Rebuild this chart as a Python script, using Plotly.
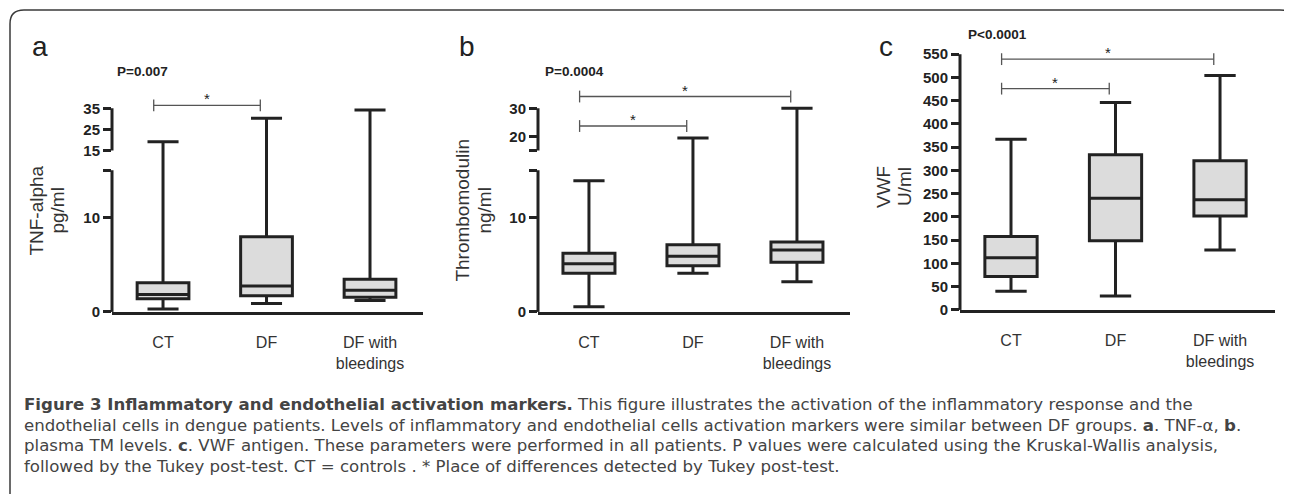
import plotly.graph_objects as go

# the page body keeps its default 8px margin; size the figure so that the page
# fits the 1292x502 window exactly (no scroll, no rescaling)
OFF = 8
W, H = 1292 - 2 * OFF, 502 - 2 * OFF

# ---------------- data ----------------
categories = ["CT", "DF", "DF with<br>bleedings"]

tnf_min = [0.3, 0.9, 1.2]
tnf_q1 = [1.4, 1.7, 1.55]
tnf_median = [1.85, 2.75, 2.3]
tnf_q3 = [3.1, 7.95, 3.45]
tnf_max = [19.2, 30.3, 34.2]

tm_min = [0.55, 4.1, 3.2]
tm_q1 = [4.1, 4.9, 5.25]
tm_median = [5.1, 5.9, 6.55]
tm_q3 = [6.2, 7.1, 7.4]
tm_max = [13.9, 19.5, 30.0]

vwf_min = [40, 30, 129]
vwf_q1 = [72, 149, 202]
vwf_median = [112, 240, 237]
vwf_q3 = [158, 334, 321]
vwf_max = [367, 446, 504]

tnf_ticks_low = [0, 10]
tnf_ticks_high = [15, 25, 35]
tm_ticks_low = [0, 10]
tm_ticks_high = [20, 30]
vwf_ticks = [0, 50, 100, 150, 200, 250, 300, 350, 400, 450, 500, 550]

panel_letters = ["a", "b", "c"]
p_texts = ["P=0.007", "P=0.0004", "P<0.0001"]
y_titles = [("TNF-alpha", "pg/ml"), ("Thrombomodulin", "ng/ml"), ("VWF", "U/ml")]
sig_tnf = [(0, 1)]
sig_tm = [(0, 2), (0, 1)]
sig_vwf = [(0, 2), (0, 1)]

caption_lines = [
    "<b>Figure 3 Inflammatory and endothelial activation markers.</b> This figure illustrates the activation of the inflammatory response and the",
    "endothelial cells in dengue patients. Levels of inflammatory and endothelial cells activation markers were similar between DF groups. <b>a</b>. TNF-α, <b>b</b>.",
    "plasma TM levels. <b>c</b>. VWF antigen. These parameters were performed in all patients. P values were calculated using the Kruskal-Wallis analysis,",
    "followed by the Tukey post-test. CT = controls . * Place of differences detected by Tukey post-test.",
]

# ---------------- styling / layout helpers ----------------
FONT = "Liberation Sans, Arial, Helvetica, sans-serif"
INK = "#222222"
BOXFILL = "#dcdcdc"


def px(x):
    return (x - OFF) / W


def py(y):
    return 1 - (y - OFF) / H


def make_break(low_top, gap_px, low_ppu, high_lo, high_ppu):
    def f(v):
        if v <= low_top:
            return v
        return low_top + gap_px / low_ppu + (v - high_lo) * high_ppu / low_ppu
    return f


brk_a = make_break(15, 20, 9.6, 15, 2.15)
brk_b = make_break(15, 20, 9.6, 15, 2.87)
ident = lambda v: v

panels = [
    dict(stats=(tnf_min, tnf_q1, tnf_median, tnf_q3, tnf_max), f=brk_a,
         xdom=(112, 423), ybot=317, ytop=40, ppu=9.6, xr=(-0.493, 2.512),
         segs=[(0, 15), (15.0001, 35)],
         tickv=[0, 10, 15] + [brk_a(t + 1e-6) for t in tnf_ticks_high],
         tickt=[str(t) for t in tnf_ticks_low] + [""] + [str(t) for t in tnf_ticks_high],
         sig=sig_tnf, sigy=[107], letter=(40, 47), ptxt=(115, 73), ytitle=((37, 58), 214)),
    dict(stats=(tm_min, tm_q1, tm_median, tm_q3, tm_max), f=brk_b,
         xdom=(538, 850), ybot=317, ytop=40, ppu=9.6, xr=(-0.49, 2.51),
         segs=[(0, 15), (15.0001, 30)],
         tickv=[0, 10, 15, brk_b(15.0001)] + [brk_b(t) for t in tm_ticks_high],
         tickt=[str(t) for t in tm_ticks_low] + ["", ""] + [str(t) for t in tm_ticks_high],
         sig=sig_tm, sigy=[98, 128], letter=(467, 47), ptxt=(543, 73), ytitle=((463, 485), 214)),
    dict(stats=(vwf_min, vwf_q1, vwf_median, vwf_q3, vwf_max), f=ident,
         xdom=(960, 1275), ybot=315, ytop=40, ppu=260 / 550, xr=(-0.488, 2.526),
         segs=[(0, 550)],
         tickv=vwf_ticks, tickt=[str(t) for t in vwf_ticks],
         sig=sig_vwf, sigy=[60, 90], letter=(886, 47), ptxt=(966, 35), ytitle=((883, 904), 190)),
]

fig = go.Figure()
layout = dict(
    width=W, height=H, margin=dict(l=0, r=0, t=0, b=0),
    paper_bgcolor="white", plot_bgcolor="white", showlegend=False,
    font=dict(family=FONT, color=INK),
)
shapes = []
annotations = []

for i, p in enumerate(panels):
    n = "" if i == 0 else str(i + 1)
    xa, ya = "x" + n, "y" + n
    f = p["f"]
    mn, q1, md, q3, mx = p["stats"]
    fig.add_trace(go.Box(
        x=[0, 1, 2],
        q1=[f(v) for v in q1], median=[f(v) for v in md], q3=[f(v) for v in q3],
        lowerfence=[f(v) for v in mn], upperfence=[f(v) for v in mx],
        width=0.5, whiskerwidth=0.6, boxpoints=False,
        fillcolor=BOXFILL, line=dict(color=INK, width=3),
        xaxis=xa, yaxis=ya, hoverinfo="skip",
    ))
    height_px = p["ybot"] - p["ytop"]
    yrange = [0, height_px / p["ppu"]]
    layout["xaxis" + n] = dict(
        domain=[px(p["xdom"][0]), px(p["xdom"][1])], anchor=ya, range=list(p["xr"]),
        tickvals=[0, 1, 2], ticktext=categories, ticks="", ticklabelstandoff=14,
        showline=True, linewidth=3, linecolor=INK, showgrid=False, zeroline=False,
        tickfont=dict(family=FONT, size=16, color="#333"), fixedrange=True,
    )
    layout["yaxis" + n] = dict(
        domain=[py(p["ybot"]), py(p["ytop"])], anchor=xa, range=yrange,
        tickvals=p["tickv"], ticktext=p["tickt"], ticks="outside", ticklen=8,
        tickwidth=3, tickcolor=INK, showline=False, showgrid=False, zeroline=False,
        tickfont=dict(family=FONT, size=15, color=INK, weight="bold"), fixedrange=True,
    )
    # broken y axis segments
    for a, b in p["segs"]:
        shapes.append(dict(type="line", xref="paper", yref=ya,
                           x0=px(p["xdom"][0]), x1=px(p["xdom"][0]),
                           y0=f(a), y1=f(b), line=dict(color=INK, width=3)))
    # significance brackets
    for (g0, g1), ypix in zip(p["sig"], p["sigy"]):
        yd = (p["ybot"] - ypix) / height_px
        dt = 6 / height_px
        x0, x1 = g0 - 0.09, g1 - 0.06
        shapes.append(dict(type="line", xref=xa, yref=ya + " domain",
                           x0=x0, x1=x1, y0=yd, y1=yd, line=dict(color="#555", width=1.3)))
        for xx in (x0, x1):
            shapes.append(dict(type="line", xref=xa, yref=ya + " domain",
                               x0=xx, x1=xx, y0=yd - dt, y1=yd + dt,
                               line=dict(color="#555", width=1.3)))
        annotations.append(dict(xref=xa, yref=ya + " domain", x=(x0 + x1) / 2, y=yd,
                                text="*", showarrow=False, yanchor="bottom", yshift=-4,
                                font=dict(family=FONT, size=15, color=INK)))
    # panel letter
    annotations.append(dict(xref="paper", yref="paper", x=px(p["letter"][0]), y=py(p["letter"][1]),
                            text=panel_letters[i], showarrow=False, xanchor="center", yanchor="middle",
                            font=dict(family=FONT, size=28, color="#222")))
    # P value
    annotations.append(dict(xref="paper", yref="paper", x=px(p["ptxt"][0]), y=py(p["ptxt"][1]),
                            text="<b>" + p_texts[i] + "</b>", showarrow=False,
                            xanchor="left", yanchor="middle",
                            font=dict(family=FONT, size=13.5, color="#222")))
    # y title (two rotated lines)
    for txt, xl in zip(y_titles[i], p["ytitle"][0]):
        annotations.append(dict(xref="paper", yref="paper", x=px(xl), y=py(p["ytitle"][1]),
                                text=txt, showarrow=False, textangle=-90,
                                xanchor="center", yanchor="middle",
                                font=dict(family=FONT, size=19, color="#333")))

# caption
for k, line in enumerate(caption_lines):
    annotations.append(dict(xref="paper", yref="paper", x=px(22), y=py(411 + 21 * k),
                            text=line, showarrow=False, xanchor="left", yanchor="middle",
                            align="left",
                            font=dict(family="DejaVu Sans", size=16.6, color="#444444")))

# rounded frame
r = 14
path = (f"M {px(10)},{py(505)} L {px(10)},{py(10 + r)} "
        f"Q {px(10)},{py(10)} {px(10 + r)},{py(10)} "
        f"L {px(1280)},{py(10)} Q {px(1290)},{py(10)} {px(1293)},{py(18)}")
shapes.append(dict(type="path", xref="paper", yref="paper", path=path,
                   line=dict(color="#3a3a3a", width=1.5)))

layout["shapes"] = shapes
layout["annotations"] = annotations
fig.update_layout(**layout)
fig.write_html("out.html")
